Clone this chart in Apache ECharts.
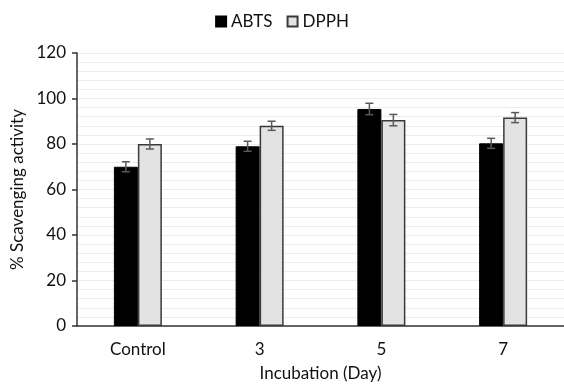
<!DOCTYPE html>
<html>
<head>
<meta charset="utf-8">
<script src="https://cdn.jsdelivr.net/npm/echarts@6/dist/echarts.min.js"></script>
<style>
  html, body { margin: 0; padding: 0; background: #fff; }
  #chart { width: 564px; height: 385px; }
</style>
</head>
<body>
<div id="chart"></div>
<script>
var categories = ['Control', '3', '5', '7'];
var abts = [70, 79, 95.4, 80.3];
var dpph = [80, 88, 90.5, 91.6];
var abtsErr = [2.2, 2.2, 2.5, 2.2];
var dpphErr = [2.2, 2, 2.5, 2.2];

var BAR_W = 24;
var FONT = 'Lato';
var TXT = '#111';

function errData(vals, errs) {
    return vals.map(function (v, i) {
        return [i, v - errs[i], v + errs[i]];
    });
}

// draws one error bar, shifted sideways to sit on its own bar
function errRender(offset) {
    return function (params, api) {
        var lo = api.coord([api.value(0), api.value(1)]);
        var hi = api.coord([api.value(0), api.value(2)]);
        var x = lo[0] + offset;
        var half = 4;
        var st = { stroke: '#5a5a5a', lineWidth: 1.5 };
        return {
            type: 'group',
            children: [
                { type: 'line', shape: { x1: x, y1: lo[1], x2: x, y2: hi[1] }, style: st },
                { type: 'line', shape: { x1: x - half, y1: lo[1], x2: x + half, y2: lo[1] }, style: st },
                { type: 'line', shape: { x1: x - half, y1: hi[1], x2: x + half, y2: hi[1] }, style: st }
            ]
        };
    };
}

var chart = echarts.init(document.getElementById('chart'));
var option = {
    animation: false,
    textStyle: { fontFamily: FONT },
    legend: {
        top: 8,
        left: 'center',
        icon: 'rect',
        itemWidth: 10,
        itemHeight: 10,
        itemGap: 14,
        textStyle: { fontSize: 17, color: TXT, fontFamily: FONT },
        data: ['ABTS', 'DPPH']
    },
    grid: {
        left: 77,
        right: 0,
        top: 53,
        bottom: 59,
        outerBoundsMode: 'none'
    },
    xAxis: {
        type: 'category',
        data: categories,
        name: 'Incubation (Day)',
        nameLocation: 'middle',
        nameGap: 39,
        nameTextStyle: { fontSize: 17, color: TXT, fontFamily: FONT },
        axisLine: { lineStyle: { color: '#333', width: 1.5 } },
        axisTick: { show: false },
        axisLabel: { fontSize: 17, color: TXT, margin: 15, fontFamily: FONT }
    },
    yAxis: {
        type: 'value',
        min: 0,
        max: 120,
        interval: 20,
        name: '% Scavenging activity',
        nameLocation: 'middle',
        nameGap: 50,
        nameTextStyle: { fontSize: 17, color: TXT, fontFamily: FONT },
        axisLine: { show: true, lineStyle: { color: '#333', width: 1.5 } },
        axisTick: { show: true, length: 5, lineStyle: { color: '#333', width: 1.5 } },
        axisLabel: { fontSize: 17, color: TXT, margin: 11, fontFamily: FONT },
        splitLine: { show: true, lineStyle: { color: '#ececec', width: 1 } },
        minorTick: { show: false, splitNumber: 5 },
        minorSplitLine: { show: true, lineStyle: { color: '#ececec', width: 1 } }
    },
    series: [
        {
            name: 'ABTS',
            type: 'bar',
            data: abts,
            barWidth: BAR_W,
            barGap: '0%',
            itemStyle: { color: '#000', borderColor: '#000', borderWidth: 1 }
        },
        {
            name: 'DPPH',
            type: 'bar',
            data: dpph,
            barWidth: BAR_W,
            barGap: '0%',
            itemStyle: { color: '#e3e3e3', borderColor: '#3a3a3a', borderWidth: 1.5 }
        },
        {
            type: 'custom',
            renderItem: errRender(-BAR_W / 2),
            data: errData(abts, abtsErr),
            encode: { x: 0, y: [1, 2] },
            z: 10
        },
        {
            type: 'custom',
            renderItem: errRender(BAR_W / 2),
            data: errData(dpph, dpphErr),
            encode: { x: 0, y: [1, 2] },
            z: 10
        }
    ]
};
chart.setOption(option);
</script>
</body>
</html>
